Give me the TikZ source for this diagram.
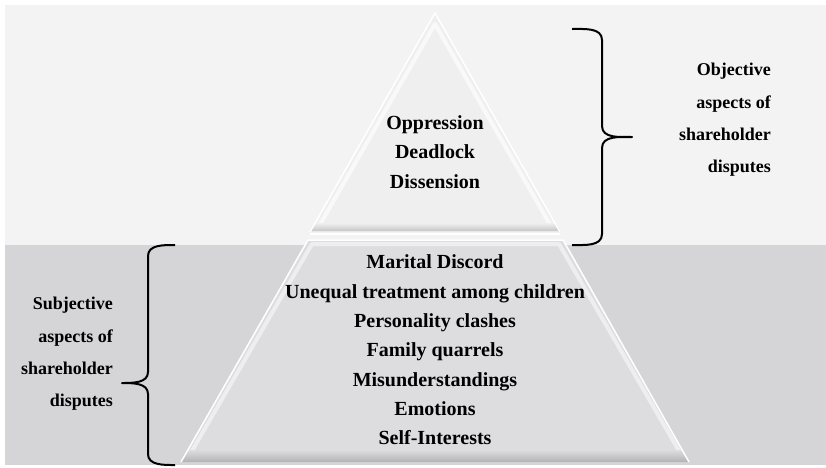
\documentclass[tikz,border=0pt]{standalone}
\usepackage{fontspec}
\setmainfont{Liberation Serif}
\definecolor{topband}{HTML}{F3F3F3}
\definecolor{lowband}{HTML}{D5D5D7}
\definecolor{topface}{HTML}{EFEFEF}
\definecolor{lowface}{HTML}{DDDDDF}
\definecolor{lowedge}{HTML}{C6C6C8}
\begin{document}
\begin{tikzpicture}[x=1pt,y=-1pt,line join=round]

	\tikzstyle{levels}=[align=center,font=\fontsize{20}{29.3}\selectfont\bfseries,inner sep=0pt]
	\tikzstyle{aspect}=[align=right,anchor=east,font=\fontsize{18}{32.3}\selectfont\bfseries,inner sep=0pt]
	\tikzstyle{brace}=[line width=2pt,black]
	\tikzstyle{rim}=[white,line width=1.5pt]
	\useasboundingbox (0,0) rectangle (826,467);

	% bands
	\fill[white] (0,0) rectangle (826,467);
	\fill[topband] (5,5) rectangle (826,245);
	\fill[lowband] (5,245) rectangle (826,465);

	% top of the pyramid
	\fill[topface] (435,13) -- (560,232) -- (310,232) -- cycle;
	\draw[white!60!topface,line width=4pt] (318,228) -- (435,24) -- (552,228);
	\shade[top color=topface,bottom color=lowedge] (314,223) -- (556,223) -- (560,231) -- (310,231) -- cycle;
	\draw[rim] (310,232) -- (435,13) -- (560,232);
	\draw[rim] (310,234) -- (560,234);

	% base of the pyramid
	\fill[lowface] (308,240) -- (563,240) -- (689,462) -- (181,462) -- cycle;
	\draw[white!50!lowface,line width=4pt] (189,456) -- (312,244) -- (559,244) -- (682,456);
	\shade[top color=lowface,bottom color=lowedge!90!black] (187,450) -- (683,450) -- (689,462) -- (181,462) -- cycle;
	\draw[rim] (181,462) -- (308,240) -- (563,240) -- (689,462);

	% labels
	\node[levels] (upper) at (435,152) {Oppression\\Deadlock\\Dissension};
	\node[levels] (lower) at (435,350) {Marital Discord\\Unequal treatment among children\\Personality clashes\\Family quarrels\\Misunderstandings\\Emotions\\Self-Interests};
	\node[aspect] (objlabel) at (771,120) {Objective\\aspects of\\shareholder\\disputes};
	\node[aspect] (subjlabel) at (113,354) {Subjective\\aspects of\\shareholder\\disputes};

	% braces
	\draw[brace] (572,29) to[out=0,in=90] (602,40) -- (602,126)
		to[out=-90,in=180] (632,137) to[out=180,in=90] (602,148)
		-- (602,234) to[out=-90,in=0] (572,245);
	\draw[brace] (175,245) to[out=180,in=90] (148,256) -- (148,372)
		to[out=-90,in=0] (122,383) to[out=0,in=90] (148,394)
		-- (148,454) to[out=-90,in=180] (175,465);
\end{tikzpicture}
\end{document}
